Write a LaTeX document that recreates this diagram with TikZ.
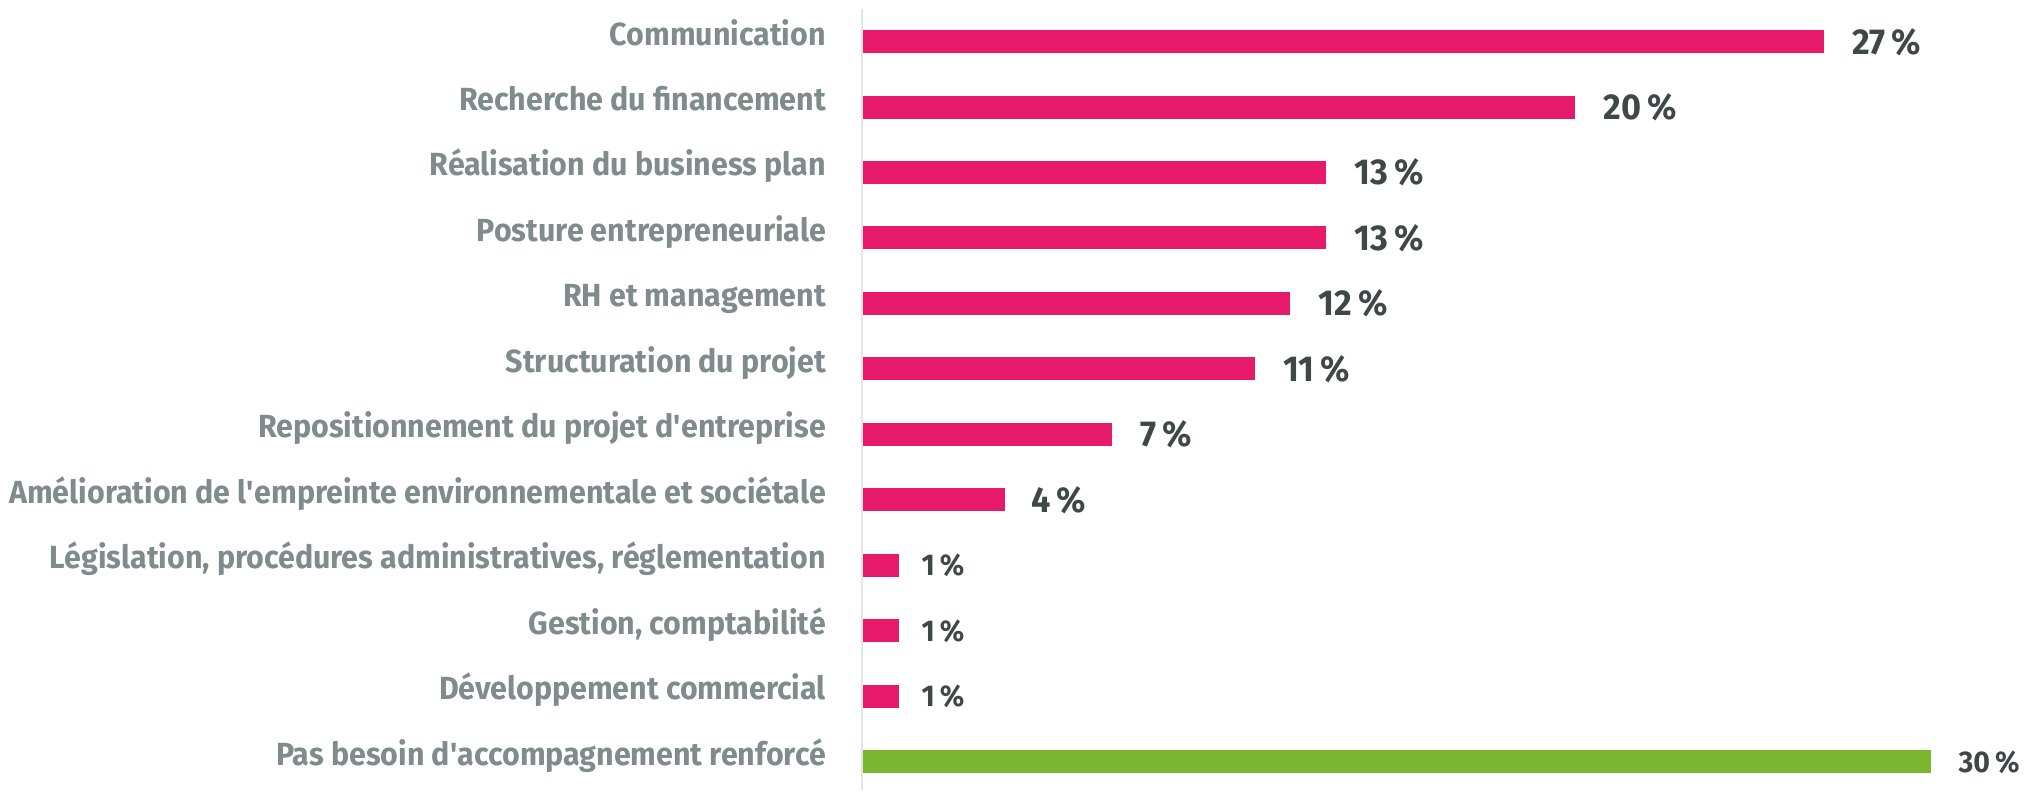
\documentclass[tikz,border=0pt]{standalone}
\usepackage{fontspec}
\setmainfont{Fira Sans}[FakeStretch=0.95]
\usetikzlibrary{positioning}

\definecolor{barpink}{HTML}{E6196A}
\definecolor{bargreen}{HTML}{7AB62F}
\definecolor{catgrey}{HTML}{7F8B8C}
\definecolor{valgrey}{HTML}{3F4749}
\definecolor{axisgrey}{HTML}{E3E5E5}

\begin{document}
\begin{tikzpicture}[x=1pt, y=-1pt,
    bar/.style ={anchor=west, inner sep=0pt, minimum height=23pt, fill=barpink},
    nobar/.style ={bar, fill=bargreen},
    category/.style ={font=\fontsize{32}{36}\selectfont\bfseries, text=catgrey, inner sep=0pt, text height=20pt, text depth=13pt},
    value/.style ={font=\fontsize{36}{40}\selectfont\bfseries, text=valgrey, inner sep=0pt, text height=25pt, text depth=0pt},
    smallvalue/.style ={value, font=\fontsize{30}{34}\selectfont\bfseries, text height=21pt}]
   \useasboundingbox (0,0) rectangle (2035,790);
   \draw[axisgrey, line width=2pt] (862,9) -- (862,790);
   % bars
   \node[bar, minimum width=961pt] (comm) at (863,41.5) {};
   \node[bar, minimum width=712pt] (fin) at (863,107) {};
   \node[bar, minimum width=463pt] (plan) at (863,172.4) {};
   \node[bar, minimum width=463pt] (post) at (863,237.9) {};
   \node[bar, minimum width=427pt] (rh) at (863,303.3) {};
   \node[bar, minimum width=392pt] (struct) at (863,368.8) {};
   \node[bar, minimum width=249pt] (repos) at (863,434.2) {};
   \node[bar, minimum width=142pt] (env) at (863,499.7) {};
   \node[bar, minimum width=36pt] (legis) at (863,565.1) {};
   \node[bar, minimum width=36pt] (gest) at (863,630.6) {};
   \node[bar, minimum width=36pt] (dev) at (863,696) {};
   \node[nobar, minimum width=1068pt] (none) at (863,761.5) {};
   % categories
   \node[category, left=37pt of comm] (lcomm) {Communication};
   \node[category, left=37pt of fin] (lfin) {Recherche du financement};
   \node[category, left=37pt of plan] (lplan) {Réalisation du business plan};
   \node[category, left=37pt of post] (lpost) {Posture entrepreneuriale};
   \node[category, left=37pt of rh] (lrh) {RH et management};
   \node[category, left=37pt of struct] (lstruct) {Structuration du projet};
   \node[category, left=37pt of repos] (lrepos) {Repositionnement du projet d\textquotesingle entreprise};
   \node[category, left=37pt of env] (lenv) {Amélioration de l\textquotesingle empreinte environnementale et sociétale};
   \node[category, left=37pt of legis] (llegis) {Législation, procédures administratives, réglementation};
   \node[category, left=37pt of gest] (lgest) {Gestion, comptabilité};
   \node[category, left=37pt of dev] (ldev) {Développement commercial};
   \node[category, left=37pt of none] (lnone) {Pas besoin d\textquotesingle accompagnement renforcé};
   % values
   \node[value, right=28pt of comm] (vcomm) {27\,\%};
   \node[value, right=28pt of fin] (vfin) {20\,\%};
   \node[value, right=28pt of plan] (vplan) {13\,\%};
   \node[value, right=28pt of post] (vpost) {13\,\%};
   \node[value, right=28pt of rh] (vrh) {12\,\%};
   \node[value, right=28pt of struct] (vstruct) {11\,\%};
   \node[value, right=28pt of repos] (vrepos) {7\,\%};
   \node[value, right=26pt of env] (venv) {4\,\%};
   \node[smallvalue, right=22pt of legis] (vlegis) {1\,\%};
   \node[smallvalue, right=22pt of gest] (vgest) {1\,\%};
   \node[smallvalue, right=22pt of dev] (vdev) {1\,\%};
   \node[smallvalue, right=27pt of none] (vnone) {30\,\%};
 \end{tikzpicture}
\end{document}
